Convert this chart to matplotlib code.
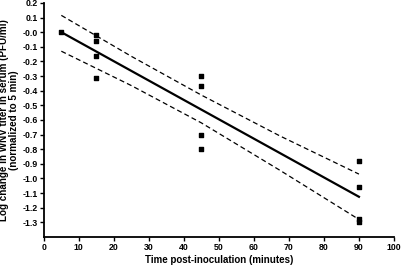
import numpy as np
import matplotlib.pyplot as plt

plt.rcParams['font.family'] = ['Liberation Sans', 'DejaVu Sans']
plt.rcParams['font.weight'] = 'bold'

# measured titers (log change, normalized to 5 min)
time_pts = [5, 15, 15, 15, 15, 45, 45, 45, 45, 90, 90, 90, 90]
log_change = [0.0, -0.02, -0.06, -0.16, -0.31, -0.30, -0.37, -0.70, -0.80,
              -0.88, -1.06, -1.28, -1.30]

# fitted line and 95% band
fit_x = [5, 90]
fit_y = [0.0, -1.125]
band_x = [5, 25, 45, 67.5, 90]
upper_y = [0.115, -0.165, -0.43, -0.71, -0.97]
lower_y = [-0.13, -0.365, -0.62, -0.945, -1.28]

yticks = np.round(np.arange(0.2, -1.35, -0.1), 1)
ytick_labels = ["%.1f" % v if v != 0 else "-0.0" for v in yticks]
xticks = list(range(0, 101, 10))

fig = plt.figure(figsize=(4.02, 2.66), dpi=100)
ax = fig.add_axes([0.109, 0.109, 0.871, 0.880])

ax.plot(fit_x, fit_y, color="black", lw=1.6)
ax.plot(band_x, upper_y, color="black", lw=0.9, ls=(0, (4, 2.5)))
ax.plot(band_x, lower_y, color="black", lw=0.9, ls=(0, (4, 2.5)))
ax.scatter(time_pts, log_change, marker="s", s=9, color="black", zorder=3)

ax.set_xlim(0, 100)
ax.set_ylim(-1.4, 0.2)
ax.set_xticks(xticks)
ax.set_yticks(yticks)
ax.set_yticklabels(ytick_labels)
ax.tick_params(labelsize=6.3, length=3, width=1, pad=1.5)
for s in ["top", "right"]:
    ax.spines[s].set_visible(False)
for s in ["left", "bottom"]:
    ax.spines[s].set_linewidth(1.3)

ax.set_xlabel("Time post-inoculation (minutes)", fontsize=7, fontweight="bold", labelpad=2)
ax.set_ylabel("Log change in WNV titer in serum (PFU/ml)\n(normalized to 5 min)",
              fontsize=7.1, fontweight="bold", labelpad=2, linespacing=1.1)

fig.savefig("out.png", dpi=100)
